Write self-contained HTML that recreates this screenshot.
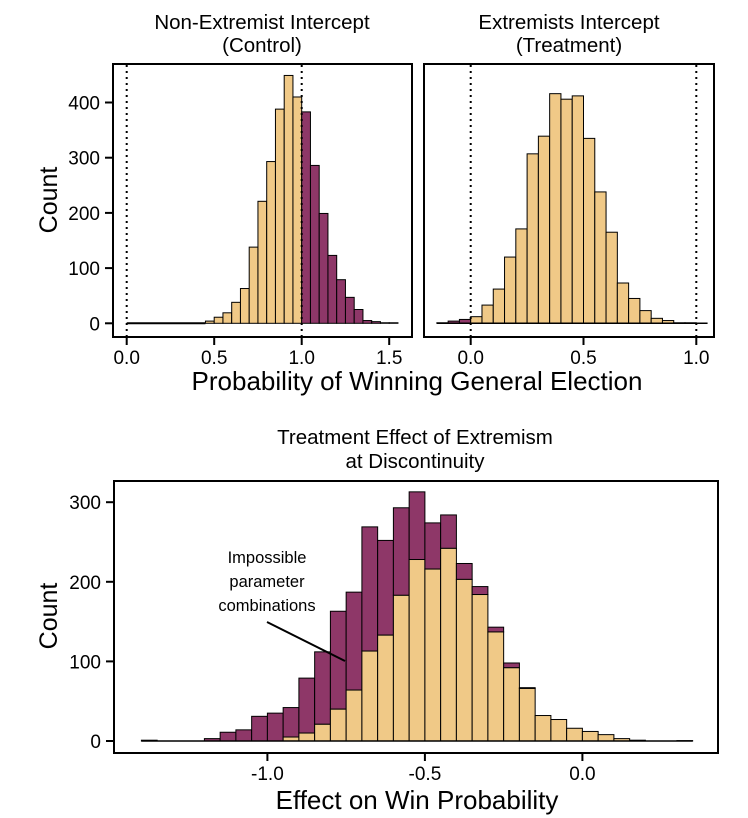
<!DOCTYPE html>
<html><head><meta charset="utf-8">
<style>
body{margin:0;background:#fff;}
svg{display:block;font-family:"Liberation Sans",sans-serif;}
</style></head>
<body>
<svg id="chart" width="748" height="818" xmlns="http://www.w3.org/2000/svg">
<g id="tl"></g>
<g id="tr"></g>
<g id="bt"></g>
<text x="262" y="29" font-size="20.5" text-anchor="middle">Non-Extremist Intercept</text>
<text x="262" y="52" font-size="20.5" text-anchor="middle">(Control)</text>
<text x="569" y="29" font-size="20.5" text-anchor="middle">Extremists Intercept</text>
<text x="569" y="52" font-size="20.5" text-anchor="middle">(Treatment)</text>
<text transform="translate(57,200) rotate(-90)" font-size="25" text-anchor="middle">Count</text>
<text x="417" y="390" font-size="26" text-anchor="middle">Probability of Winning General Election</text>
<text x="415" y="444" font-size="20.5" text-anchor="middle">Treatment Effect of Extremism</text>
<text x="415" y="468" font-size="20.5" text-anchor="middle">at Discontinuity</text>
<text transform="translate(57,616) rotate(-90)" font-size="25" text-anchor="middle">Count</text>
<text x="417" y="809" font-size="26" text-anchor="middle">Effect on Win Probability</text>
<g font-size="16.5" text-anchor="middle">
<text x="267" y="563">Impossible</text>
<text x="267" y="587">parameter</text>
<text x="267" y="611">combinations</text>
<line x1="267" y1="622" x2="345" y2="661" stroke="#000" stroke-width="2"/>
</g>
</svg>
<script>
// Control panel data (bins width 0.05 starting at 0.0)
const ctrlStart = 0.0;
const ctrlCounts = [0,0,0,0,0,0,0,0,0,4,11,19,38,63,138,221,293,388,449,410,383,286,199,123,79,47,25,5,3,1,1];
// Treatment panel data (bins starting at -0.15)
const trtStart = -0.15;
const trtCounts = [1,4,7,12,33,62,120,171,307,339,416,406,412,335,238,165,73,45,23,9,5,1,1,0];
// Effect panel (bins starting at -1.4)
const effStart = -1.4;
const effTotal = [1,0,0,0,3,11,14,31,35,42,79,112,163,187,269,252,293,313,274,284,223,194,143,98,67,32,27,16,12,8,3,1,0,0,0.5];
const effPossible = [0,0,0,0,0,0,0,0,0,5,10,21,40,64,113,133,183,228,216,242,203,184,137,92,66,32,27,16,12,8,3,1,0,0,0.5];
const topYTicks = [0,100,200,300,400];
const ctrlXTicks = [0.0,0.5,1.0,1.5];
const trtXTicks = [0.0,0.5,1.0];
const effYTicks = [0,100,200,300];
const effXTicks = [-1.0,-0.5,0.0];

const NS="http://www.w3.org/2000/svg";
const Y="#F0C987", P="#8E3768";
function mk(parent,tag,attrs){const e=document.createElementNS(NS,tag);for(const k in attrs)e.setAttribute(k,attrs[k]);parent.appendChild(e);return e;}

function panel(g,box,xs,ys,xticks,yticks,showY,fmt){
  mk(g,'rect',{x:box.x0,y:box.y0,width:box.x1-box.x0,height:box.y1-box.y0,fill:'none',stroke:'#000','stroke-width':2});
  xticks.forEach(v=>{
    const t=mk(g,'line',{x1:xs(v),x2:xs(v),y1:box.y1,y2:box.y1+8,stroke:'#000','stroke-width':2});
    
    
    const l=mk(g,'text',{x:xs(v),y:box.y1+27,'font-size':19,'text-anchor':'middle'});
    
    
    l.textContent=fmt(v);
  });
  if(showY) yticks.forEach(v=>{
    const t=mk(g,'line',{x1:box.x0-8,x2:box.x0,y1:ys(v),y2:ys(v),stroke:'#000','stroke-width':2});
    
    
    const l=mk(g,'text',{x:box.x0-13,y:ys(v)+7,'font-size':19,'text-anchor':'end'});
    
    
    l.textContent=v;
  });
}
function bar(g,x0,x1,yTop,yBot,fill){
  const r=mk(g,'rect',{x:x0,y:yTop,width:x1-x0,height:Math.max(yBot-yTop,0),fill:fill,stroke:'#000','stroke-width':1});
  
  
}
const fmt1=v=>v.toFixed(1);

const topY=v=>323.3-v*0.552;
(function(){
  const g=document.getElementById('tl');
  const box={x0:113,x1:412,y0:64,y1:337};
  const xs=v=>126.7+v*175;
  ctrlCounts.forEach((c,i)=>{const a=ctrlStart+i*0.05;bar(g,xs(a),xs(a+0.05),topY(c),topY(0),a>=0.999?P:Y);});
  mk(g,'line',{x1:xs(0),x2:xs(0.45),y1:topY(0),y2:topY(0),stroke:'#000','stroke-width':2});
  [0,1].forEach(v=>mk(g,'line',{x1:xs(v),x2:xs(v),y1:65,y2:336,stroke:'#000','stroke-width':2,'stroke-dasharray':'2,4'}));
  panel(g,box,xs,topY,ctrlXTicks,topYTicks,true,fmt1);
})();
(function(){
  const g=document.getElementById('tr');
  const box={x0:424,x1:714,y0:64,y1:337};
  const xs=v=>470.7+v*225.6;
  trtCounts.forEach((c,i)=>{const a=trtStart+i*0.05;bar(g,xs(a),xs(a+0.05),topY(c),topY(0),a<-0.001?P:Y);});
  mk(g,'line',{x1:xs(-0.15),x2:xs(1.05),y1:topY(0),y2:topY(0),stroke:'#000','stroke-width':1.5});
  [0,1].forEach(v=>mk(g,'line',{x1:xs(v),x2:xs(v),y1:65,y2:336,stroke:'#000','stroke-width':2,'stroke-dasharray':'2,4'}));
  panel(g,box,xs,topY,trtXTicks,topYTicks,false,fmt1);
})();
(function(){
  const g=document.getElementById('bt');
  const box={x0:114,x1:718,y0:481,y1:753};
  const xs=v=>582.4+v*315;
  const ys=v=>741-v*0.796;
  effTotal.forEach((c,i)=>{const a=effStart+i*0.05;
    bar(g,xs(a),xs(a+0.05),ys(c),ys(effPossible[i]),P);
    bar(g,xs(a),xs(a+0.05),ys(effPossible[i]),ys(0),Y);});
  mk(g,'line',{x1:xs(-1.4),x2:xs(0.35),y1:ys(0),y2:ys(0),stroke:'#000','stroke-width':1.5});
  panel(g,box,xs,ys,effXTicks,effYTicks,true,fmt1);
})();
</script>
</body></html>
